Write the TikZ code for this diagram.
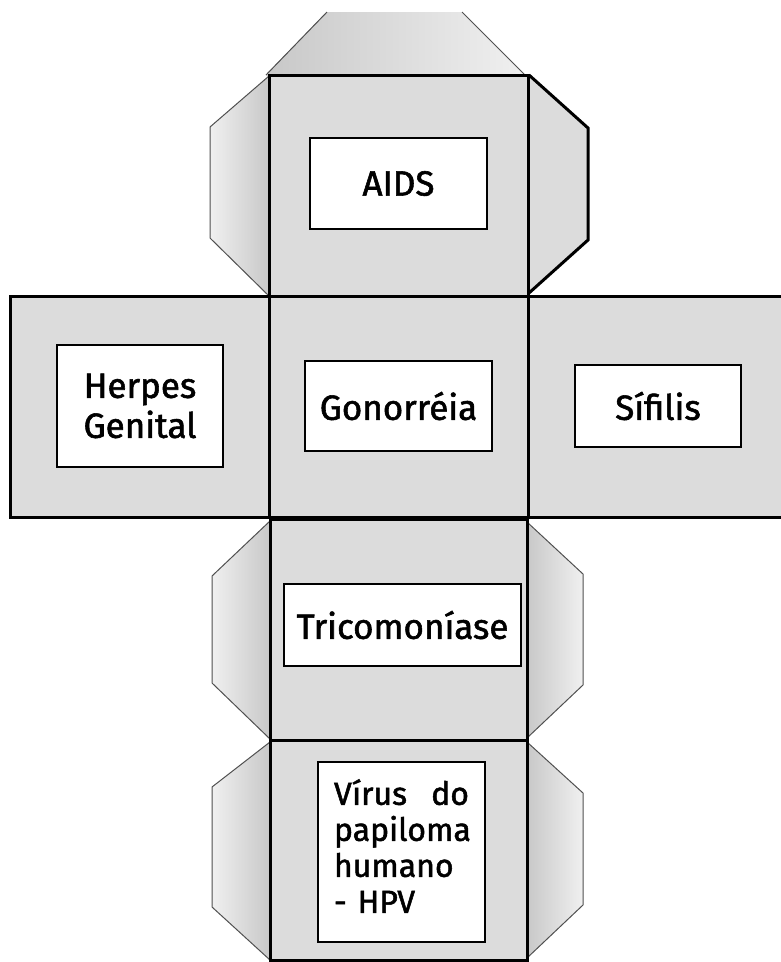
\documentclass[tikz,border=0pt]{standalone}
\usepackage{fontspec}
\setmainfont{Fira Sans}[FakeBold=1.6]
\definecolor{facegray}{RGB}{220,220,220}
\definecolor{flapdark}{RGB}{200,200,200}
\definecolor{flaplight}{RGB}{240,240,240}
\definecolor{flapline}{RGB}{80,80,80}
\begin{document}
\begin{tikzpicture}[x=1pt,y=-1pt,
  face/.style={fill=facegray,draw=black,line width=3pt,line join=miter},
  flap/.style={draw=flapline,line width=1pt},
  lbl/.style={draw=black,fill=white,line width=2.5pt,inner sep=0pt,align=center,
    font=\fontsize{35}{40}\selectfont},
]
\clip (0,0) rectangle (781,962);
\fill[white] (0,0) rectangle (781,962);
% top flap
\fill[left color=flapdark,right color=flaplight] (327,12) -- (462,12) -- (525,75) -- (266,75) -- cycle;
\draw[flap] (327,12) -- (266,75);
\draw[flap] (462,12) -- (525,75);
% flaps of the top face
\draw[flap,left color=flaplight,right color=flapdark] (269,76) -- (210,127) -- (210,238) -- (269,296);
\draw[face] (529,75) -- (588,128) -- (588,240) -- (529,293);
% flaps of the lower faces
\draw[flap,left color=flaplight,right color=flapdark] (270,521) -- (212,576) -- (212,683) -- (270,739);
\draw[flap,left color=flapdark,right color=flaplight] (527,522) -- (583,574) -- (583,685) -- (527,738);
\draw[flap,left color=flaplight,right color=flapdark] (270,742) -- (212,787) -- (212,907) -- (270,960);
\draw[flap,left color=flapdark,right color=flaplight] (527,742) -- (583,793) -- (583,905) -- (527,958);
% faces
\draw[face] (269,75) rectangle (528,296);
\draw[face] (10,296) rectangle (800,517);
\draw[line width=3pt] (269,296) -- (269,517);
\draw[line width=3pt] (528,296) -- (528,517);
\draw[face] (270,519) rectangle (527,740);
\draw[face] (270,740) rectangle (527,960);
% labels
\node[lbl,minimum width=177pt,minimum height=91pt] (aids) at (398.5,183.5) {AIDS};
\node[lbl,minimum width=166pt,minimum height=122pt] (herpes) at (140,406) {Herpes\\Genital};
\node[lbl,minimum width=187pt,minimum height=90pt] (gono) at (398.5,406) {Gonorréia};
\node[lbl,minimum width=166pt,minimum height=82pt] (sifilis) at (658,406) {Sífilis};
\node[lbl,minimum width=237pt,minimum height=82pt] (trico) at (402.5,625) {Tricomoníase};
\node[lbl,minimum width=167pt,minimum height=180pt,text width=135pt,align=left,
  font=\fontsize{32}{36}\selectfont] (hpv) at (401.5,852)
  {\makebox[135pt][l]{Vírus\hfill do}\\papiloma\\humano\\- HPV\rule[-12pt]{0pt}{0pt}};
\end{tikzpicture}
\end{document}
